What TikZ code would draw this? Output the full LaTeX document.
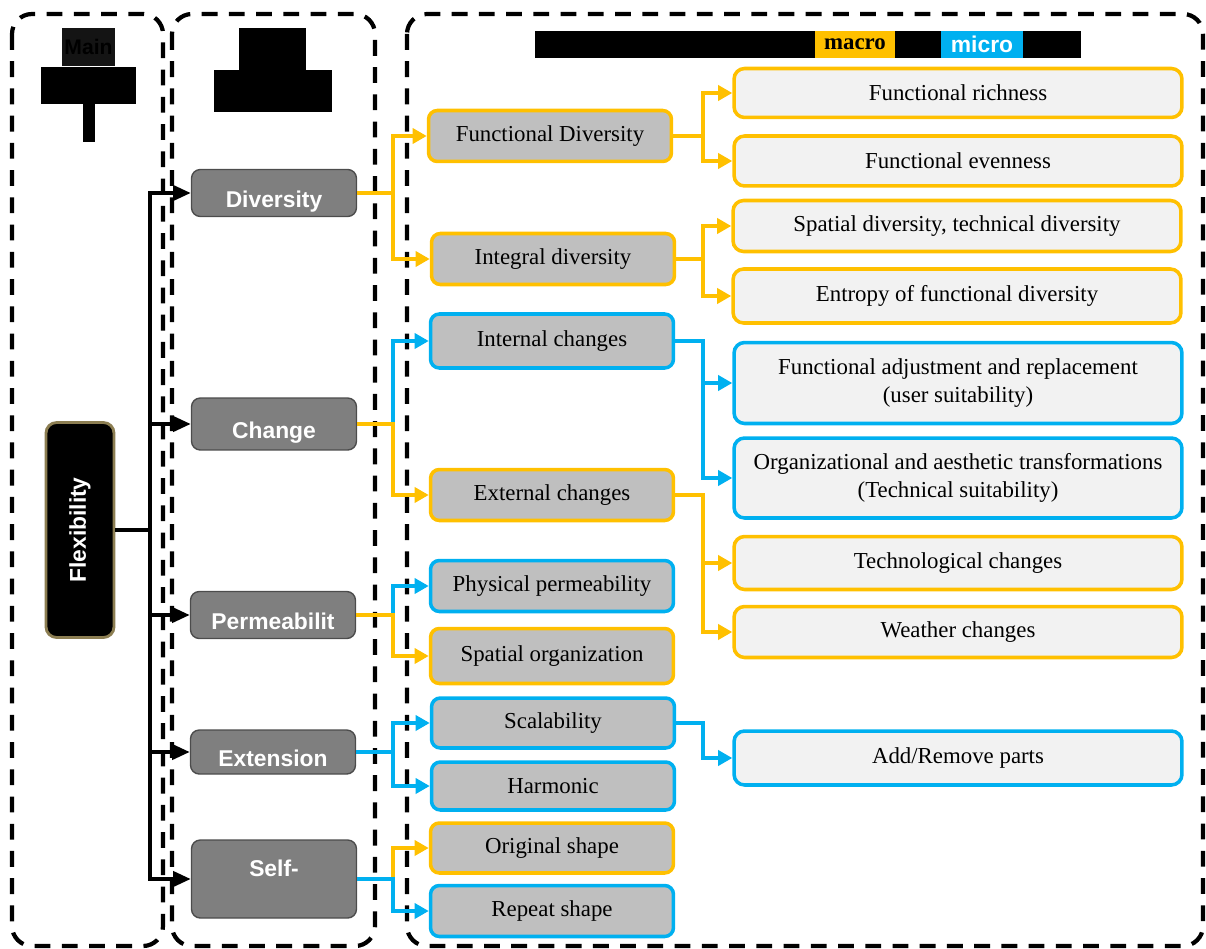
\documentclass[tikz,border=0pt]{standalone}
\usepackage{fontspec}
\setmainfont{Liberation Serif}
\newfontfamily\labelsans{Liberation Sans}
\usetikzlibrary{arrows.meta}
\definecolor{macroc}{RGB}{255,192,0}
\definecolor{microc}{RGB}{0,176,240}
\definecolor{darkbox}{RGB}{127,127,127}
\definecolor{midbox}{RGB}{191,191,191}
\definecolor{lightbox}{RGB}{242,242,242}
\definecolor{flexrim}{RGB}{140,126,82}
\tikzset{groupframe/.style = {line width=2.4pt, dash pattern=on 9pt off 6.5pt,
                              rounded corners=0.4cm}}
\tikzset{lvlone/.style = {draw=black!70, fill=darkbox, rounded corners=5pt,
                          line width=0.8pt, text=white, inner sep=1pt,
                          minimum width=3.3cm, minimum height=0.94cm,
                          text height=17pt, text depth=0pt,
                          font=\labelsans\bfseries\fontsize{13}{15}\selectfont}}
\tikzset{lvltwo/.style = {fill=midbox, rounded corners=5pt, line width=2pt,
                          inner sep=1pt, minimum width=4.86cm, minimum height=1.02cm,
                          font=\fontsize{13}{15}\selectfont}}
\tikzset{lvlthree/.style = {fill=lightbox, rounded corners=6pt, line width=2pt,
                            inner sep=1pt, align=center, minimum width=8.96cm,
                            minimum height=1.02cm, font=\fontsize{13}{16}\selectfont}}
\tikzset{trunk/.style = {line width=2.2pt}}
\tikzset{trunkarrow/.style = {line width=2.2pt, -{Triangle[length=10pt,width=8.5pt]}}}
\tikzset{link/.style = {line width=2pt, -{Triangle[length=8pt,width=8.5pt]}}}

\begin{document}
\begin{tikzpicture}[x=0.02cm, y=-0.02cm]
  \useasboundingbox (0,0) rectangle (1206,949);
  % the three columns
  \draw[groupframe] (12,14) rectangle (163,946);
  \draw[groupframe] (172,14) rectangle (375,946);
  \draw[groupframe] (407,14) rectangle (1203,946);

  % column heads
  \node[fill=black!92, text=black, inner sep=0pt, minimum width=1.06cm,
        minimum height=0.76cm, font=\labelsans\bfseries\fontsize{12}{14}\selectfont]
    (mainhead) at (88.5,47) {Main};
  \fill (41,67) rectangle (136,104);
  \fill (83,104) rectangle (95,142);
  \fill (239,28) rectangle (306,70);
  \fill (214,70) rectangle (332,112);
  \node[fill=black, minimum width=10.92cm, minimum height=0.54cm, inner sep=0pt]
    (bar) at (808,44.5) {};
  \node[fill=macroc, minimum width=1.6cm, minimum height=0.54cm, inner sep=0pt,
        font=\bfseries\fontsize{13}{15}\selectfont] (macro) at (855,44.5) {macro};
  \node[fill=microc, text=white, minimum width=1.64cm, minimum height=0.54cm,
        inner sep=0pt, font=\labelsans\bfseries\fontsize{13}{15}\selectfont]
    (micro) at (982,44.5) {micro};

  % main criterion
  \node[draw=flexrim, fill=black, rounded corners=6pt, line width=1.6pt,
        minimum width=1.36cm, minimum height=4.3cm, text=white,
        font=\labelsans\bfseries\fontsize{13}{15}\selectfont]
    (flex) at (80,530) {\rotatebox{90}{Flexibility}};

  % first level
  \node[lvlone] (div) at (274,193) {Diversity};
  \node[lvlone, minimum height=1.04cm] (chg) at (274,424) {Change};
  \node[lvlone] (perm) at (273,615) {Permeabilit};
  \node[lvlone, minimum height=0.88cm] (ext) at (273,752) {Extension};
  \node[lvlone, minimum height=1.56cm, text height=9pt, text depth=12pt]
    (self) at (274,879) {Self-};

  % second level
  \node[lvltwo, draw=macroc] (fdiv) at (550,136) {Functional Diversity};
  \node[lvltwo, draw=macroc] (idiv) at (553,259) {Integral diversity};
  \node[lvltwo, draw=microc, minimum height=1.08cm] (intc) at (552,341) {Internal changes};
  \node[lvltwo, draw=macroc] (extc) at (552,495) {External changes};
  \node[lvltwo, draw=microc] (phys) at (552,586) {Physical permeability};
  \node[lvltwo, draw=macroc, minimum height=1.1cm] (spat) at (552,656) {Spatial organization};
  \node[lvltwo, draw=microc, minimum height=1cm] (scal) at (553,723) {Scalability};
  \node[lvltwo, draw=microc, minimum height=0.96cm] (harm) at (553,786) {Harmonic};
  \node[lvltwo, draw=macroc, minimum height=1cm] (orig) at (552,848) {Original shape};
  \node[lvltwo, draw=microc] (rep) at (552,911) {Repeat shape};

  % third level
  \node[lvlthree, draw=macroc, minimum height=0.98cm] (rich) at (958,93) {Functional richness};
  \node[lvlthree, draw=macroc, minimum height=1cm] (even) at (958,161) {Functional evenness};
  \node[lvlthree, draw=macroc] (spdiv) at (957,226) {Spatial diversity, technical diversity};
  \node[lvlthree, draw=macroc, minimum height=1.08cm] (entr) at (957,296) {Entropy of functional diversity};
  \node[lvlthree, draw=microc, minimum height=1.62cm] (fadj) at (958,383)
    {Functional adjustment and replacement\\(user suitability)};
  \node[lvlthree, draw=microc, minimum height=1.6cm] (orgt) at (958,478)
    {Organizational and aesthetic transformations\\(Technical suitability)};
  \node[lvlthree, draw=macroc, minimum height=1.06cm] (tech) at (958,563) {Technological changes};
  \node[lvlthree, draw=macroc] (weat) at (958,632) {Weather changes};
  \node[lvlthree, draw=microc, minimum height=1.08cm] (addr) at (958,758) {Add/Remove parts};

  % branching points
  \coordinate (jt) at (150,0);
  \coordinate (ja) at (393,0);
  \coordinate (jb) at (703,0);

  \draw[trunk] (flex.east) -- (flex.east -| jt);
  \foreach \n in {div,chg,perm,ext,self}
    \draw[trunkarrow] (flex.east -| jt) |- (\n.west);

  \draw[link, macroc] (div.east) -- (div.east -| ja) |- (fdiv.west);
  \draw[link, macroc] (div.east) -- (div.east -| ja) |- (idiv.west);
  \draw[link, microc] (chg.east) -- (chg.east -| ja) |- (intc.west);
  \draw[link, macroc] (chg.east) -- (chg.east -| ja) |- (extc.west);
  \draw[link, microc] (perm.east) -- (perm.east -| ja) |- (phys.west);
  \draw[link, macroc] (perm.east) -- (perm.east -| ja) |- (spat.west);
  \draw[link, microc] (ext.east) -- (ext.east -| ja) |- (scal.west);
  \draw[link, microc] (ext.east) -- (ext.east -| ja) |- (harm.west);
  \draw[link, macroc] (self.east) -- (self.east -| ja) |- (orig.west);
  \draw[link, microc] (self.east) -- (self.east -| ja) |- (rep.west);

  \draw[link, macroc] (fdiv.east) -- (fdiv.east -| jb) |- (rich.west);
  \draw[link, macroc] (fdiv.east) -- (fdiv.east -| jb) |- (even.west);
  \draw[link, macroc] (idiv.east) -- (idiv.east -| jb) |- (spdiv.west);
  \draw[link, macroc] (idiv.east) -- (idiv.east -| jb) |- (entr.west);
  \draw[link, microc] (intc.east) -- (intc.east -| jb) |- (fadj.west);
  \draw[link, microc] (intc.east) -- (intc.east -| jb) |- (orgt.west);
  \draw[link, macroc] (extc.east) -- (extc.east -| jb) |- (tech.west);
  \draw[link, macroc] (extc.east) -- (extc.east -| jb) |- (weat.west);
  \draw[link, microc] (scal.east) -- (scal.east -| jb) |- (addr.west);
\end{tikzpicture}
\end{document}
